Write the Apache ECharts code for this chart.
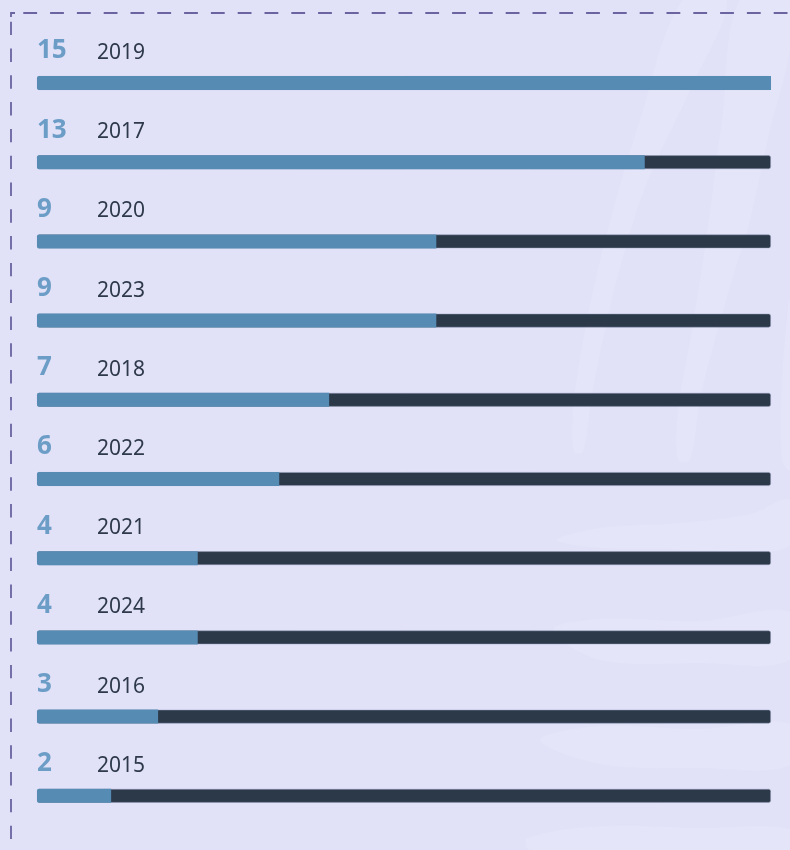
<!DOCTYPE html>
<html>
<head>
<meta charset="utf-8">
<script src="https://cdn.jsdelivr.net/npm/echarts@6/dist/echarts.min.js"></script>
<style>
html,body{margin:0;padding:0;background:#e1e1f8;}
#chart{width:790px;height:850px;}
</style>
</head>
<body>
<div id="chart"></div>
<script>
// Data
var years = ['2019', '2017', '2020', '2023', '2018', '2022', '2021', '2024', '2016', '2015'];
var counts = [15, 13, 9, 9, 7, 6, 4, 4, 3, 2];
// filled share of each track (percent of full width), as drawn
var fillShare = [100, 82.8, 54.4, 54.4, 39.8, 33.0, 21.9, 21.9, 16.5, 10.1];
var trackMax = 100;

var FONT = '"Noto Sans", "Open Sans", sans-serif';
var chart = echarts.init(document.getElementById('chart'));

var trackData = years.map(function () { return trackMax; });

var decor = 'rgba(255,255,255,0.14)';
function blob(points) {
  return { type: 'polygon', z: -10, silent: true, shape: { points: points, smooth: 0.35 }, style: { fill: decor } };
}

var option = {
  backgroundColor: '#e1e1f8',
  animation: false,
  grid: { left: 37, right: 19, top: 43.4, bottom: 14.6, containLabel: false },
  xAxis: { type: 'value', min: 0, max: trackMax, show: false },
  yAxis: { type: 'category', data: years, inverse: true, show: false },
  graphic: [
    blob([[683,0],[640,120],[607,233],[585,330],[573,410],[574,452],[583,452],[592,395],[605,330],[622,260],[648,180],[690,90],[727,0]]),
    blob([[740,0],[722,120],[707,233],[692,330],[678,410],[678,460],[690,460],[700,400],[715,340],[732,280],[750,220],[770,130],[790,50],[790,0]]),
    blob([[790,300],[782,380],[782,460],[790,470]]),
    blob([[557,540],[600,528],[680,523],[750,514],[790,500],[790,545],[740,551],[660,549],[600,548]]),
    blob([[553,630],[600,619],[700,621],[790,612],[790,660],[700,663],[600,660]]),
    blob([[540,740],[600,726],[700,729],[790,724],[790,765],[700,768],[600,764]]),
    blob([[527,838],[600,826],[700,828],[790,829],[790,850],[530,850]]),
    { type: 'polyline', z: 10, silent: true, shape: { points: [[11,17],[11,13],[15,13]] }, style: { stroke: '#6b64a0', lineWidth: 1.8, fill: null } },
    { type: 'line', z: 10, silent: true, shape: { x1: 23.3, y1: 13, x2: 800, y2: 13 }, style: { stroke: '#6b64a0', lineWidth: 1.8, lineDash: [13.8, 13] } },
    { type: 'line', z: 10, silent: true, shape: { x1: 11, y1: 21.7, x2: 11, y2: 860 }, style: { stroke: '#6b64a0', lineWidth: 1.8, lineDash: [13.4, 13.4] } }
  ],
  series: [
    {
      type: 'bar',
      data: trackData,
      barWidth: 14,
      barGap: '-100%',
      itemStyle: { color: '#2c3949', borderColor: 'rgba(150,160,190,0.6)', borderWidth: 0.8, borderRadius: 2 },
      label: {
        show: true,
        position: [60, -23],
        align: 'left',
        verticalAlign: 'middle',
        formatter: function (p) { return years[p.dataIndex]; },
        fontFamily: FONT,
        fontSize: 21,
        color: '#2e3a4b'
      },
      silent: true
    },
    {
      type: 'bar',
      data: fillShare,
      barWidth: 14,
      barGap: '-100%',
      itemStyle: { color: '#568bb4', borderRadius: [2, 0, 0, 2] },
      label: {
        show: true,
        position: [0, -25],
        align: 'left',
        verticalAlign: 'middle',
        formatter: function (p) { return String(counts[p.dataIndex]); },
        fontFamily: FONT,
        fontWeight: 'bold',
        fontSize: 26,
        color: '#6c9dc6'
      },
      silent: true
    }
  ]
};
chart.setOption(option);
</script>
</body>
</html>
